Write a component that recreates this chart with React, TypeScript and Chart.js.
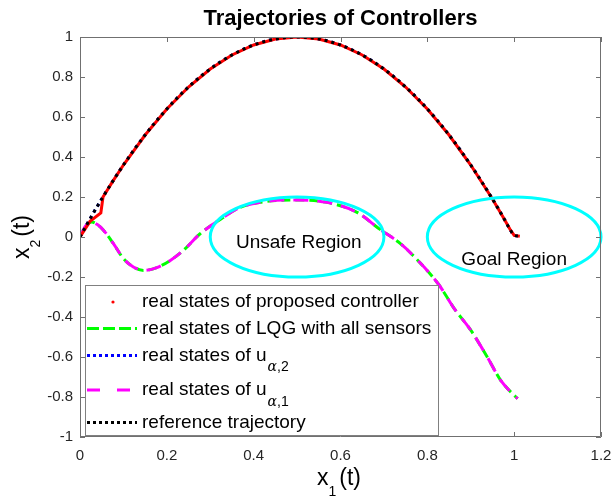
import React, { useEffect, useRef } from "react";
import { Chart, registerables } from "chart.js";

Chart.register(...registerables);

const FONT = "'Liberation Sans', Arial, Helvetica, sans-serif";

const xTicks = [0, 0.2, 0.4, 0.6, 0.8, 1, 1.2];
const yTicks = [-1, -0.8, -0.6, -0.4, -0.2, 0, 0.2, 0.4, 0.6, 0.8, 1];

// reference trajectory
const refX = [0, 0.025, 0.05, 0.075, 0.1, 0.15, 0.2, 0.25, 0.3, 0.35, 0.4, 0.45, 0.5, 0.55, 0.6, 0.65, 0.7, 0.75, 0.8, 0.85, 0.9, 0.95, 0.975, 0.99, 1.0, 1.013];
const refY = [0, 0.098, 0.19, 0.277, 0.36, 0.51, 0.64, 0.75, 0.84, 0.91, 0.96, 0.99, 1.0, 0.99, 0.96, 0.91, 0.84, 0.75, 0.64, 0.51, 0.36, 0.19, 0.098, 0.04, 0.008, 0.004];

// proposed controller
const proposedX = [0, 0.023, 0.048, 0.053, 0.075, 0.1, 0.15, 0.2, 0.25, 0.3, 0.35, 0.4, 0.45, 0.5, 0.55, 0.6, 0.65, 0.7, 0.75, 0.8, 0.85, 0.9, 0.95, 0.975, 0.99, 1.0, 1.013];
const proposedY = [0, 0.078, 0.12, 0.2, 0.277, 0.36, 0.51, 0.64, 0.75, 0.84, 0.91, 0.96, 0.99, 1.0, 0.99, 0.96, 0.91, 0.84, 0.75, 0.64, 0.51, 0.36, 0.19, 0.098, 0.04, 0.008, 0.004];

// u_{alpha,2}
const alpha2X = [0, 0.025, 0.05, 0.075, 0.1, 0.15, 0.2, 0.25, 0.3, 0.35, 0.4, 0.45, 0.5, 0.55, 0.6, 0.65, 0.7, 0.75, 0.8, 0.85, 0.9, 0.95, 0.975, 0.99, 1.0, 1.013];
const alpha2Y = [0, 0.098, 0.19, 0.277, 0.36, 0.51, 0.64, 0.75, 0.84, 0.91, 0.96, 0.99, 1.0, 0.99, 0.96, 0.91, 0.84, 0.75, 0.64, 0.51, 0.36, 0.19, 0.098, 0.04, 0.008, 0.004];

// LQG with all sensors
const lqgX = [0, 0.013, 0.027, 0.04, 0.054, 0.077, 0.1, 0.123, 0.146, 0.177, 0.208, 0.238, 0.276, 0.323, 0.369, 0.43, 0.5, 0.569, 0.638, 0.691, 0.738, 0.785, 0.827, 0.862, 0.9, 0.938, 0.969, 1.004, 1.008];
const lqgY = [0, 0.055, 0.075, 0.062, 0.034, -0.033, -0.108, -0.15, -0.167, -0.153, -0.117, -0.067, 0.015, 0.088, 0.148, 0.178, 0.185, 0.173, 0.123, 0.038, -0.033, -0.133, -0.24, -0.358, -0.466, -0.6, -0.717, -0.8, -0.808];

// u_{alpha,1}
const alpha1X = [0, 0.013, 0.027, 0.04, 0.054, 0.077, 0.1, 0.123, 0.146, 0.177, 0.208, 0.238, 0.276, 0.323, 0.369, 0.43, 0.5, 0.569, 0.638, 0.691, 0.738, 0.785, 0.827, 0.862, 0.9, 0.938, 0.969, 1.004, 1.008];
const alpha1Y = [0, 0.055, 0.075, 0.062, 0.034, -0.033, -0.108, -0.15, -0.167, -0.153, -0.117, -0.067, 0.015, 0.088, 0.148, 0.178, 0.185, 0.173, 0.123, 0.038, -0.033, -0.133, -0.24, -0.358, -0.466, -0.6, -0.717, -0.8, -0.808];

const regionNames = ["Unsafe Region", "Goal Region"];
const regionCenterX = [0.5, 1.0];
const regionCenterY = [0, 0];
const regionRadius = [0.2, 0.2];
const regionLabelX = [0.504, 1.0];
const regionLabelY = [-0.03, -0.115];

const legendMain = [
  "real states of proposed controller",
  "real states of LQG with all sensors",
  "real states of u",
  "real states of u",
  "reference trajectory",
];
const legendSub = ["", "", "2", "1", ""];

const toPts = (xs: number[], ys: number[]) => xs.map((x, i) => ({ x, y: ys[i] }));

const fmt = (v: number | string) => {
  const n = Math.round(Number(v) * 10) / 10;
  return n === 0 ? "0" : String(n);
};

const overlay = {
  id: "overlay",
  afterDatasetsDraw(chart: any) {
    const ctx = chart.ctx;
    const xs = chart.scales.x;
    const ys = chart.scales.y;
    const { left, right, top, bottom } = chart.chartArea;
    ctx.save();

    // regions
    ctx.strokeStyle = "#00ffff";
    ctx.lineWidth = 3;
    regionNames.forEach((name, i) => {
      const cx = xs.getPixelForValue(regionCenterX[i]);
      const cy = ys.getPixelForValue(regionCenterY[i]);
      const rx = xs.getPixelForValue(regionCenterX[i] + regionRadius[i]) - cx;
      const ry = cy - ys.getPixelForValue(regionCenterY[i] + regionRadius[i]);
      ctx.beginPath();
      ctx.ellipse(cx, cy, rx, ry, 0, 0, Math.PI * 2);
      ctx.stroke();
    });
    ctx.fillStyle = "#000";
    ctx.font = `19px ${FONT}`;
    ctx.textAlign = "center";
    ctx.textBaseline = "middle";
    regionNames.forEach((name, i) => {
      ctx.fillText(name, xs.getPixelForValue(regionLabelX[i]), ys.getPixelForValue(regionLabelY[i]));
    });

    // box + inward ticks
    ctx.strokeStyle = "#707070";
    ctx.lineWidth = 1;
    ctx.beginPath();
    ctx.rect(left + 0.5, top + 0.5, right - left - 1, bottom - top - 1);
    ctx.stroke();
    const tl = 5;
    ctx.beginPath();
    xTicks.forEach((v) => {
      const px = Math.round(xs.getPixelForValue(v)) + 0.5;
      ctx.moveTo(px, bottom);
      ctx.lineTo(px, bottom - tl);
      ctx.moveTo(px, top);
      ctx.lineTo(px, top + tl);
    });
    yTicks.forEach((v) => {
      const py = Math.round(ys.getPixelForValue(v)) + 0.5;
      ctx.moveTo(left, py);
      ctx.lineTo(left + tl, py);
      ctx.moveTo(right, py);
      ctx.lineTo(right - tl, py);
    });
    ctx.stroke();

    // legend
    const lx = 85, ly = 285, lw = 353, lh = 150;
    ctx.fillStyle = "#fff";
    ctx.fillRect(lx, ly, lw, lh);
    ctx.strokeStyle = "#808080";
    ctx.strokeRect(lx + 0.5, ly + 0.5, lw, lh);
    const rowY = [302, 328.5, 355.5, 390, 422.5];
    const s0 = 87, s1 = 137, tx = 142;
    ctx.fillStyle = "#ff0000";
    ctx.beginPath();
    ctx.arc(113, rowY[0], 1.6, 0, Math.PI * 2);
    ctx.fill();
    const sample = (y: number, color: string, dash: number[], w: number) => {
      ctx.strokeStyle = color;
      ctx.lineWidth = w;
      ctx.setLineDash(dash);
      ctx.beginPath();
      ctx.moveTo(s0, y);
      ctx.lineTo(s1, y);
      ctx.stroke();
      ctx.setLineDash([]);
    };
    sample(rowY[1], "#00ff00", [12, 4], 3);
    sample(rowY[2], "#0000ff", [3, 3], 3);
    sample(rowY[3], "#ff00ff", [13, 17], 3);
    sample(rowY[4], "#000000", [3, 3], 3);
    ctx.fillStyle = "#000";
    ctx.textAlign = "left";
    ctx.textBaseline = "middle";
    legendMain.forEach((t, i) => {
      ctx.font = `19px ${FONT}`;
      ctx.fillText(t, tx, rowY[i]);
      if (legendSub[i]) {
        const w = ctx.measureText(t).width;
        ctx.font = `italic 14px 'DejaVu Serif', serif`;
        ctx.fillText("\u03b1", tx + w + 1, rowY[i] + 12);
        const aw = ctx.measureText("\u03b1").width;
        ctx.font = `14px ${FONT}`;
        ctx.fillText("," + legendSub[i], tx + w + 1 + aw, rowY[i] + 12);
      }
    });

    // title
    ctx.font = `bold 22px ${FONT}`;
    ctx.textAlign = "center";
    ctx.textBaseline = "alphabetic";
    ctx.fillText("Trajectories of Controllers", (left + right) / 2, 25);

    // axis labels
    const drawSubLabel = (sub: string) => {
      ctx.font = `23px ${FONT}`;
      const w1 = ctx.measureText("x").width;
      const w3 = ctx.measureText("(t)").width;
      ctx.font = `14px ${FONT}`;
      const w2 = ctx.measureText(sub).width;
      const total = w1 + w2 + w3 + 3;
      const x0 = -total / 2;
      ctx.textAlign = "left";
      ctx.textBaseline = "alphabetic";
      ctx.font = `23px ${FONT}`;
      ctx.fillText("x", x0, 0);
      ctx.font = `14px ${FONT}`;
      ctx.fillText(sub, x0 + w1, 11);
      ctx.font = `23px ${FONT}`;
      ctx.fillText("(t)", x0 + w1 + w2 + 3, 0);
    };
    ctx.save();
    ctx.translate(339, 485);
    drawSubLabel("1");
    ctx.restore();
    ctx.save();
    ctx.translate(29, (top + bottom) / 2);
    ctx.rotate(-Math.PI / 2);
    drawSubLabel("2");
    ctx.restore();

    ctx.restore();
  },
};

export default function App() {
  const ref = useRef<HTMLCanvasElement>(null);
  useEffect(() => {
    document.body.style.margin = "0";
    const chart = new Chart(ref.current as HTMLCanvasElement, {
      type: "line",
      data: {
        datasets: [
          { label: "reference trajectory", data: toPts(refX, refY), borderColor: "#000000", borderWidth: 3, borderDash: [3, 4], pointRadius: 0, cubicInterpolationMode: "monotone" },
          { label: "proposed", data: toPts(proposedX, proposedY), borderColor: "#ff0000", borderWidth: 3, pointRadius: 0, tension: 0 },
          { label: "alpha2", data: toPts(alpha2X, alpha2Y), borderColor: "#0000ff", borderWidth: 3, borderDash: [3, 4], pointRadius: 0, cubicInterpolationMode: "monotone" },
          { label: "alpha1", data: toPts(alpha1X, alpha1Y), borderColor: "#ff00ff", borderWidth: 3, borderDash: [15, 9], pointRadius: 0, cubicInterpolationMode: "monotone" },
          { label: "lqg", data: toPts(lqgX, lqgY), borderColor: "#00ff00", borderWidth: 3, borderDash: [9, 5], pointRadius: 0, cubicInterpolationMode: "monotone" },
        ] as any,
      },
      options: {
        responsive: false,
        animation: false,
        devicePixelRatio: 1,
        layout: { padding: { top: 37, right: 12, left: 0, bottom: 0 } },
        plugins: { legend: { display: false }, title: { display: false }, tooltip: { enabled: false } },
        scales: {
          x: {
            type: "linear",
            min: 0,
            max: 1.2,
            afterBuildTicks: (s: any) => { s.ticks = xTicks.map((v) => ({ value: v })); },
            afterFit: (s: any) => { s.height = 60; s.paddingLeft = 0; s.paddingRight = 0; },
            ticks: { callback: fmt, font: { size: 15, family: FONT }, color: "#262626", padding: 10, maxRotation: 0, autoSkip: false },
            grid: { display: false, drawTicks: false },
            border: { display: false },
          },
          y: {
            type: "linear",
            min: -1,
            max: 1,
            afterBuildTicks: (s: any) => { s.ticks = yTicks.map((v) => ({ value: v })); },
            afterFit: (s: any) => { s.width = 80; s.paddingTop = 0; s.paddingBottom = 0; },
            ticks: { callback: fmt, font: { size: 15, family: FONT }, color: "#262626", padding: 7, autoSkip: false },
            grid: { display: false, drawTicks: false },
            border: { display: false },
          },
        },
      } as any,
      plugins: [overlay],
    });
    return () => chart.destroy();
  }, []);
  return (
    <div style={{ position: "absolute", left: 0, top: 0, width: 613, height: 497, background: "#fff" }}>
      <canvas ref={ref} width={613} height={497} style={{ width: 613, height: 497, display: "block" }} />
    </div>
  );
}
